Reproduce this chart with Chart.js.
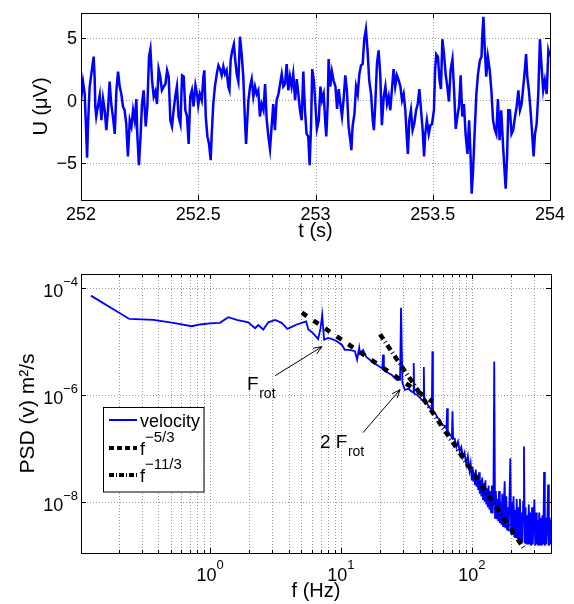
<!DOCTYPE html>
<html lang="en">
<head>
  <meta charset="UTF-8" />
  <title>Velocity trace and PSD</title>
  <script src="https://cdn.jsdelivr.net/npm/chart.js"></script>
  <style>
    html, body { margin: 0; padding: 0; background: #fff; }
    .wrap { position: relative; width: 574px; height: 604px; }
    #traceChart { position: absolute; left: 0; top: 0; }
    #psdChart { position: absolute; left: 0; top: 250px; }
  </style>
</head>
<body>
<div class="wrap">
  <canvas id="traceChart" width="574" height="250"></canvas>
  <canvas id="psdChart" width="574" height="354"></canvas>
</div>

<script>
  const FONT = '"Liberation Sans", Arial, Helvetica, sans-serif';
  const BLUE = "#0000ff";

  // --- top panel: U (uV) vs t (s) ---
  const velocityTrace = [
    [252.000,0.0],[252.0085,1.5],[252.016,0.5],[252.026,-4.6],[252.030,-1.9],[252.037,1.1],[252.044,2.1],[252.054,3.5],
    [252.058,1.9],[252.061,-0.5],[252.065,-1.3],[252.072,-0.5],[252.080,0.4],[252.087,-1.6],[252.094,0.1],[252.101,-0.8],
    [252.108,-2.4],[252.115,-0.8],[252.122,1.5],[252.129,-0.3],[252.136,-1.3],[252.144,-2.7],[252.151,0.8],[252.158,2.3],
    [252.165,1.1],[252.172,0.5],[252.179,-0.5],[252.186,-0.8],[252.193,-1.9],[252.200,-4.5],[252.208,-1.6],[252.215,-2.1],
    [252.222,-0.8],[252.229,-1.6],[252.236,0.1],[252.240,-2.7],[252.247,-5.2],[252.254,-2.9],[252.260,-0.3],[252.267,0.8],
    [252.276,-2.1],[252.283,-0.5],[252.290,3.5],[252.296,4.1],[252.303,1.6],[252.310,0.3],[252.317,0.7],[252.324,-0.3],
    [252.331,2.5],[252.338,1.9],[252.345,0.8],[252.353,1.1],[252.360,1.3],[252.367,2.4],[252.374,1.9],[252.381,-1.6],
    [252.388,-2.1],[252.395,-0.8],[252.402,0.3],[252.409,1.1],[252.416,-1.3],[252.424,-1.9],[252.431,2.0],[252.438,1.9],
    [252.445,-0.8],[252.452,-1.3],[252.459,-3.5],[252.466,0.3],[252.473,0.8],[252.480,-0.5],[252.488,1.2],[252.495,0.5],
    [252.500,-0.4],[252.507,0.5],[252.515,0.0],[252.522,1.9],[252.526,2.4],[252.532,-1.3],[252.539,-2.9],[252.546,-3.5],
    [252.553,-4.8],[252.557,-2.9],[252.564,-0.3],[252.571,1.1],[252.579,2.1],[252.586,2.8],[252.593,2.5],[252.600,2.0],
    [252.607,2.7],[252.614,2.1],[252.621,2.4],[252.628,1.1],[252.633,0.8],[252.638,3.2],[252.645,4.0],[252.652,4.5],
    [252.658,3.2],[252.664,2.1],[252.671,1.5],[252.678,5.1],[252.685,3.7],[252.692,1.9],[252.699,-1.6],[252.704,-3.5],
    [252.709,-1.6],[252.714,0.0],[252.721,1.1],[252.728,1.7],[252.735,0.3],[252.742,1.1],[252.749,0.5],[252.756,0.8],
    [252.763,-1.3],[252.770,-0.3],[252.778,-0.8],[252.785,1.3],[252.792,-1.6],[252.799,-2.9],[252.806,-3.9],[252.813,-2.1],
    [252.820,-0.3],[252.827,-2.4],[252.834,0.0],[252.842,0.5],[252.849,1.3],[252.856,2.1],[252.863,1.1],[252.870,1.3],
    [252.877,2.9],[252.884,0.8],[252.891,1.9],[252.898,1.1],[252.905,2.1],[252.913,0.0],[252.920,1.7],[252.927,0.5],
    [252.934,-0.8],[252.941,-1.6],[252.948,2.3],[252.955,-0.8],[252.962,-2.7],[252.969,-2.9],[252.975,-5.2],[252.981,-2.1],
    [252.986,2.5],[252.993,1.6],[253.001,-0.8],[253.006,-2.3],
    [253.014,-1.6],[253.021,1.1],[253.028,0.0],[253.035,0.5],[253.042,-1.9],[253.046,-2.9],[253.052,-0.3],[253.056,3.3],
    [253.063,1.1],[253.070,2.3],[253.077,1.6],[253.085,1.1],[253.092,-0.7],[253.099,0.9],[253.106,-0.3],[253.113,-1.3],
    [253.120,0.1],[253.127,2.0],[253.134,0.8],[253.141,-2.1],[253.149,-3.3],[253.153,-4.0],[253.158,-2.1],[253.166,-1.1],
    [253.173,1.1],[253.180,0.5],[253.187,2.1],[253.194,2.8],[253.201,2.9],[253.208,4.9],[253.215,5.7],[253.222,4.0],
    [253.229,1.6],[253.237,0.5],[253.244,-1.6],[253.249,-2.4],[253.255,-0.3],[253.262,2.9],[253.269,4.0],[253.276,2.1],
    [253.283,-2.0],[253.291,0.3],[253.298,1.1],[253.305,-0.3],[253.312,0.3],[253.319,-0.8],[253.326,0.9],[253.333,2.5],
    [253.340,1.1],[253.347,2.0],[253.355,1.6],[253.362,1.1],[253.369,0.0],[253.376,0.5],[253.383,-0.8],[253.390,-3.2],
    [253.394,-4.3],[253.400,-1.6],[253.407,-0.8],[253.414,-2.4],[253.421,-1.9],[253.429,-0.8],[253.436,-0.3],[253.443,0.9],
    [253.450,-0.8],[253.457,-2.4],[253.463,-4.5],[253.468,-2.7],[253.475,-1.6],[253.483,-2.7],[253.490,-2.0],[253.497,-1.9],
    [253.505,-0.8],
    [253.510,2.4],[253.515,3.7],[253.522,3.5],[253.529,1.6],[253.535,0.9],[253.541,4.9],[253.548,3.7],[253.555,2.1],
    [253.562,1.1],[253.569,-0.1],[253.576,2.4],[253.584,3.3],[253.591,0.8],[253.598,-2.3],[253.605,-1.3],[253.612,-0.5],
    [253.619,2.0],[253.626,-1.3],[253.633,-0.3],[253.640,-2.7],[253.648,-4.3],[253.655,-1.6],[253.662,-4.8],[253.666,-7.5],
    [253.672,-5.6],[253.679,-2.4],[253.686,0.5],[253.693,2.1],[253.701,3.2],[253.708,3.5],[253.711,5.1],[253.716,6.7],
    [253.721,4.5],[253.728,1.9],[253.735,3.5],[253.743,2.4],[253.750,0.8],[253.757,-1.6],[253.764,-2.3],[253.771,-2.7],
    [253.778,0.1],[253.785,-3.2],[253.792,-0.8],[253.800,-3.7],[253.805,-5.3],[253.811,-7.1],[253.817,-4.5],[253.822,-0.8],
    [253.829,-0.8],[253.836,-2.7],[253.843,-2.4],[253.851,-1.3],[253.858,-0.5],[253.865,0.8],[253.872,-0.8],[253.879,-0.3],
    [253.886,1.1],[253.893,2.5],[253.898,3.7],[253.903,1.9],[253.910,0.8],[253.917,-0.8],[253.924,-2.7],[253.930,-4.5],
    [253.936,-2.7],[253.943,-1.9],[253.950,0.5],[253.957,4.9],[253.964,2.7],[253.971,0.8],[253.978,1.6],[253.986,0.5],
    [253.993,4.0],[254.000,3.5]
  ];
  const timeTicks = [252, 252.5, 253, 253.5, 254];
  const voltTicks = [-5, 0, 5];

  // --- bottom panel: PSD (v) vs f (Hz) ---
  const psdVelocity = [
    [0.123,7.1e-5],[0.242,2.6e-5],[0.369,2.5e-5],[0.525,2.2e-5],[0.725,1.9e-5],[0.84,2.05e-5],[1.0,2.15e-5],
    [1.19,2.2e-5],[1.38,2.8e-5],[1.6,2.5e-5],[1.96,2.25e-5],[2.21,1.75e-5],[2.34,2.0e-5],[2.55,1.65e-5],
    [2.79,2.25e-5],[3.14,2.5e-5],[3.53,2.2e-5],[3.9,1.7e-5],[4.21,1.85e-5],[4.6,2.05e-5],[5.02,2.2e-5],
    [5.42,2.35e-5],[5.64,1.65e-5],[6.15,1.4e-5],[6.7,1.1e-5],[6.99,1.75e-5],[7.2,3.1e-5],[7.44,1.07e-5],
    [8.0,1.15e-5],[8.77,1.07e-5],[9.3,1.0e-5],[10.2,8.5e-6],[10.7,6.9e-6],[11.6,6.9e-6],[12.8,6.5e-6],
    [13.3,4.5e-6],[13.8,7.6e-6],[14.0,5.9e-6],[14.8,6.8e-6],[15.7,5.0e-6],[17.7,4.0e-6],[19.9,3.3e-6],
    [20.7,3.1e-6],[21.0,5.6e-6],[21.3,3.0e-6],[21.7,2.75e-6],[24.4,2.35e-6],[26.7,1.9e-6],[28.3,1.9e-6],
    [28.8,4.2e-5],[29.5,1.66e-6],[30.8,1.23e-6],[32.8,1.29e-6],[34.7,1.15e-6],[35.7,1.1e-6],[36.0,3.9e-6],
    [36.3,1.05e-6],[38.0,1.0e-6],[40.2,8.7e-7],[42.6,7.6e-7],[43.0,3.3e-6],[43.4,7.4e-7],[45.3,6.9e-7],
    [47.9,5.6e-7],[49.5,5.3e-7],[50.0,6.5e-6],[50.5,5.0e-7],[52.4,4.6e-7],[54.6,3.7e-7],[57.1,3.4e-7],
    [59.5,2.7e-7],[62.3,2.6e-7],[64.0,2.3e-7],[64.8,5.6e-7],[65.6,2.1e-7],[68,1.8e-7],[70.4,1.6e-7],
    [71.2,4.9e-7],[72.0,1.5e-7],
    [74.1,1.51e-7],[76.3,1.05e-7],[78.5,1.32e-7],[80.8,8.7e-8],[83.1,1.05e-7],[85.5,6.8e-8],[88.0,8.3e-8],
    [90.7,5.0e-8],[93.3,7.1e-8],[96.0,3.8e-8],[98.0,5.2e-8],
    [100,2.51e-8],[101.4,4.47e-8],[102.9,2.4e-8],[104.3,3.55e-8],[105.8,2.1e-8],[107.3,3.98e-8],[108.8,1.9e-8],
    [110.4,3.16e-8],[111.9,1.66e-8],[113.5,3.55e-8],[115.1,1.41e-8],[116.8,2.51e-8],[118.4,1.26e-8],[120.1,2.82e-8],
    [121.8,1.12e-8],[123.5,2.24e-8],[125.3,1.0e-8],[127.1,2.51e-8],[128.9,8.9e-9],[130.7,1.78e-8],[132.6,7.9e-9],
    [134.5,2.0e-8],[136.4,7.1e-9],[138.3,1.58e-8],[140.3,6.3e-9],[142.3,2.0e-8],[144.3,6.0e-9],[146.3,1.41e-8],
    [148.4,4.17e-6],[150.5,5.0e-9],[152.7,1.58e-8],[154.8,4.7e-9],[157.0,1.12e-8],[159.3,4.3e-9],[161.5,1.58e-8],
    [163.8,4.0e-9],[166.2,1.0e-8],[168.5,3.7e-9],[170.9,1.41e-8],[173.4,3.5e-9],[175.8,8.9e-9],[178.3,2.4e-8],
    [180.9,3.2e-9],[183.4,1.26e-8],[186.0,3.0e-9],[188.7,7.9e-9],[191.4,2.8e-9],[194.1,1.26e-8],[196.9,6.5e-8],
    [199.7,2.5e-9],[202.5,1.0e-8],[205.4,2.4e-9],[208.3,1.26e-8],[211.3,2.2e-9],[214.3,7.1e-9],[217.3,2.1e-9],
    [220.4,1.12e-8],[223.6,2.0e-9],[226.7,7.9e-9],[230.0,1.9e-9],[233.2,1.12e-8],[236.6,1.78e-9],[239.9,6.3e-9],
    [243.3,1.74e-9],[246.8,1.0e-8],[250.3,1.07e-7],[253.9,1.66e-9],[257.5,7.9e-9],[261.2,1.58e-9],[264.9,5.6e-9],
    [268.6,1.58e-9],[272.5,8.9e-9],[276.3,1.58e-9],[280.3,6.3e-9],[284.3,1.51e-9],[288.3,7.9e-9],[292.4,1.58e-9],
    [296.6,5.6e-9],[300.8,1.1e-8],[305.1,1.51e-9],[309.5,6.3e-9],[313.9,1.58e-9],[318.3,4.5e-9],[322.9,1.51e-9],
    [327.5,6.3e-9],[332.1,1.58e-9],[336.9,5.0e-9],[341.7,1.51e-9],[346.5,5.6e-9],[351.5,1.58e-9],[356.5,3.6e-8],
    [361.5,1.51e-9],[366.7,5.0e-9],[371.9,1.58e-9],[377.2,4.0e-9],[382.6,2.1e-8],[388.0,1.51e-9],[393.6,5.0e-9],
    [399.2,1.58e-9],[404.9,4.5e-9]
  ];
  const fitFiveThirds = [[5.04,3.41e-5],[50,7.45e-7]];
  const fitElevenThirds = [[19.9,1.35e-5],[247,1.4e-9]];
  const freqGrid = [0.2,0.3,0.4,0.5,0.6,0.7,0.8,0.9,1,2,3,4,5,6,7,8,9,10,20,30,40,50,60,70,80,90,100,200,300,400];
  const freqLabelTicks = [1, 10, 100];
  const psdTicks = [1e-4, 1e-6, 1e-8];
  const legendNames = ["velocity", "f", "f"];
  const legendPowers = ["", "\u22125/3", "\u221211/3"];
  const notes = [
    { text: "F", sub: "rot", at: [1.92, 1.24e-6], tail: [3.14, 2.26e-6], tip: [7.17, 7.9e-6] },
    { text: "2 F", sub: "rot", at: [6.92, 1.01e-7], tail: [14.75, 1.95e-7], tip: [28.3, 1.24e-6] }
  ];

  const DASH_53 = [6, 8];
  const DASH_113 = [6, 3, 1, 3];

  function line(ctx, x1, y1, x2, y2) {
    ctx.beginPath(); ctx.moveTo(x1, y1); ctx.lineTo(x2, y2); ctx.stroke();
  }

  function supText(ctx, base, sup, x, y, align, size, supSize, rise) {
    ctx.font = size + "px " + FONT;
    const wb = ctx.measureText(base).width;
    ctx.font = supSize + "px " + FONT;
    const ws = ctx.measureText(sup).width;
    let x0 = x;
    if (align === "center") x0 = x - (wb + ws) / 2;
    if (align === "right") x0 = x - (wb + ws);
    ctx.textAlign = "left";
    ctx.textBaseline = "alphabetic";
    ctx.font = size + "px " + FONT;
    ctx.fillText(base, x0, y);
    ctx.font = supSize + "px " + FONT;
    ctx.fillText(sup, x0 + wb, y - rise);
  }

  function expText(v) {
    return String(Math.round(Math.log10(v))).replace("-", "\u2212");
  }

  // grid, box, inner ticks, tick labels and titles drawn the MATLAB way
  function matlabAxes(cfg) {
    return {
      id: "matlabAxes",
      beforeDatasetsDraw(chart) {
        const { ctx, chartArea: a } = chart;
        const sx = chart.scales.x, sy = chart.scales.y;
        ctx.save();
        ctx.strokeStyle = "#9a9a9a";
        ctx.lineWidth = 1;
        ctx.setLineDash([1, 2]);
        cfg.xGrid.forEach(v => {
          const p = Math.round(sx.getPixelForValue(v)) + 0.5;
          line(ctx, p, a.top, p, a.bottom);
        });
        cfg.yGrid.forEach(v => {
          const p = Math.round(sy.getPixelForValue(v)) + 0.5;
          line(ctx, a.left, p, a.right, p);
        });
        ctx.restore();
      },
      afterDraw(chart) {
        const { ctx, chartArea: a } = chart;
        const sx = chart.scales.x, sy = chart.scales.y;
        ctx.save();
        ctx.strokeStyle = "#000";
        ctx.fillStyle = "#000";
        ctx.lineWidth = 1;
        ctx.setLineDash([]);
        cfg.xGrid.forEach(v => {
          const p = Math.round(sx.getPixelForValue(v)) + 0.5;
          const len = cfg.xMajor.includes(v) ? 5 : 3;
          line(ctx, p, a.bottom, p, a.bottom - len);
          line(ctx, p, a.top, p, a.top + len);
        });
        cfg.yMajor.forEach(v => {
          const p = Math.round(sy.getPixelForValue(v)) + 0.5;
          line(ctx, a.left, p, a.left + 5, p);
          line(ctx, a.right, p, a.right - 5, p);
        });
        ctx.strokeRect(Math.round(a.left) + 0.5, Math.round(a.top) + 0.5,
                       Math.round(a.right - a.left), Math.round(a.bottom - a.top));

        cfg.xMajor.forEach(v => {
          const p = sx.getPixelForValue(v);
          if (cfg.log) {
            supText(ctx, "10", expText(v), p, a.bottom + 28, "center", 18, 13, 12);
          } else {
            ctx.font = "18px " + FONT;
            ctx.textAlign = "center";
            ctx.textBaseline = "alphabetic";
            ctx.fillText(String(v), p, a.bottom + 20);
          }
        });
        cfg.yMajor.forEach(v => {
          const p = sy.getPixelForValue(v);
          if (cfg.log) {
            supText(ctx, "10", expText(v), a.left - 3, p + 9, "right", 18, 13, 11);
          } else {
            ctx.font = "18px " + FONT;
            ctx.textAlign = "right";
            ctx.textBaseline = "alphabetic";
            ctx.fillText(String(v).replace("-", "\u2212"), a.left - 4, p + 6.5);
          }
        });

        ctx.font = "20px " + FONT;
        ctx.textAlign = "center";
        ctx.textBaseline = "middle";
        ctx.fillText(cfg.xTitle, (a.left + a.right) / 2, a.bottom + cfg.xTitleGap);
        ctx.save();
        ctx.translate(cfg.yTitleX, (a.top + a.bottom) / 2);
        ctx.rotate(-Math.PI / 2);
        ctx.font = cfg.yTitleSize + "px " + FONT;
        ctx.fillText(cfg.yTitle, 0, 0);
        ctx.restore();
        ctx.restore();
      }
    };
  }

  function drawArrow(ctx, x1, y1, x2, y2) {
    line(ctx, x1, y1, x2, y2);
    const ang = Math.atan2(y2 - y1, x2 - x1);
    const L = 9, w = 0.38;
    line(ctx, x2, y2, x2 - L * Math.cos(ang - w), y2 - L * Math.sin(ang - w));
    line(ctx, x2, y2, x2 - L * Math.cos(ang + w), y2 - L * Math.sin(ang + w));
  }

  const psdExtras = {
    id: "psdExtras",
    afterDraw(chart) {
      const { ctx, chartArea: a } = chart;
      const sx = chart.scales.x, sy = chart.scales.y;
      const px = p => [sx.getPixelForValue(p[0]), sy.getPixelForValue(p[1])];
      ctx.save();
      ctx.strokeStyle = "#000";
      ctx.fillStyle = "#000";
      ctx.lineWidth = 1;

      notes.forEach(n => {
        const [tx, ty] = px(n.tail), [hx, hy] = px(n.tip), [ax, ay] = px(n.at);
        drawArrow(ctx, tx, ty, hx, hy);
        ctx.textAlign = "left";
        ctx.textBaseline = "alphabetic";
        ctx.font = "19px " + FONT;
        ctx.fillText(n.text, ax, ay);
        const w = ctx.measureText(n.text).width;
        ctx.font = "14px " + FONT;
        ctx.fillText(n.sub, ax + w + 0.5, ay + 8);
      });

      // legend box
      const bx = a.left + 22.5, by = a.top + 133.5;
      ctx.fillStyle = "#fff";
      ctx.fillRect(bx, by, 100.5, 84.5);
      ctx.strokeRect(bx, by, 100.5, 84.5);
      ctx.fillStyle = "#000";
      const rows = [146, 174, 201];
      const styles = [
        { color: BLUE, width: 2, dash: [] },
        { color: "#000", width: 4, dash: [5, 3] },
        { color: "#000", width: 4, dash: [5, 2, 1, 2] }
      ];
      rows.forEach((ry, i) => {
        const y = a.top + ry;
        ctx.save();
        ctx.strokeStyle = styles[i].color;
        ctx.lineWidth = styles[i].width;
        ctx.setLineDash(styles[i].dash);
        line(ctx, a.left + 28, y, a.left + 56, y);
        ctx.restore();
        if (legendPowers[i]) {
          supText(ctx, legendNames[i], legendPowers[i], a.left + 59, y + 7, "left", 18, 15, 13);
        } else {
          ctx.font = "18px " + FONT;
          ctx.textAlign = "left";
          ctx.textBaseline = "alphabetic";
          ctx.fillText(legendNames[i], a.left + 59, y + 6.5);
        }
      });
      ctx.restore();
    }
  };

  function fixedScale(extra, size, horizontal) {
    return Object.assign({
      ticks: { display: false },
      grid: { display: false, drawTicks: false },
      border: { display: false },
      afterFit: s => { if (horizontal) s.height = size; else s.width = size; }
    }, extra);
  }

  new Chart(document.getElementById("traceChart"), {
    type: "line",
    data: {
      datasets: [{
        label: "velocity",
        data: velocityTrace.map(d => ({ x: d[0], y: d[1] })),
        borderColor: BLUE,
        borderWidth: 2.5,
        pointRadius: 0,
        tension: 0
      }]
    },
    options: {
      responsive: false,
      animation: false,
      layout: { padding: { left: 0, top: 13, right: 24, bottom: 0 } },
      plugins: { legend: { display: false }, tooltip: { enabled: false } },
      scales: {
        x: fixedScale({ type: "linear", min: 252, max: 254 }, 50, true),
        y: fixedScale({ type: "linear", min: -8, max: 7 }, 81, false)
      }
    },
    plugins: [matlabAxes({
      xGrid: timeTicks, xMajor: timeTicks, yGrid: voltTicks, yMajor: voltTicks,
      log: false, xTitle: "t (s)", xTitleGap: 31, yTitle: "U (\u03bcV)", yTitleX: 41, yTitleSize: 20
    })]
  });

  new Chart(document.getElementById("psdChart"), {
    type: "line",
    data: {
      datasets: [
        {
          label: "velocity",
          data: psdVelocity.map(d => ({ x: d[0], y: d[1] })),
          borderColor: BLUE,
          borderWidth: 1.8,
          pointRadius: 0,
          tension: 0,
          order: 2
        },
        {
          label: "f^-5/3",
          data: fitFiveThirds.map(d => ({ x: d[0], y: d[1] })),
          borderColor: "#000",
          borderWidth: 4.5,
          borderDash: DASH_53,
          pointRadius: 0,
          order: 1
        },
        {
          label: "f^-11/3",
          data: fitElevenThirds.map(d => ({ x: d[0], y: d[1] })),
          borderColor: "#000",
          borderWidth: 4.5,
          borderDash: DASH_113,
          pointRadius: 0,
          order: 0
        }
      ]
    },
    options: {
      responsive: false,
      animation: false,
      layout: { padding: { left: 0, top: 24, right: 23, bottom: 0 } },
      plugins: { legend: { display: false }, tooltip: { enabled: false } },
      scales: {
        x: fixedScale({ type: "logarithmic", min: 0.1034, max: 402.7 }, 51, true),
        y: fixedScale({ type: "logarithmic", min: 1.1e-9, max: 1.8e-4 }, 81, false)
      }
    },
    plugins: [matlabAxes({
      xGrid: freqGrid, xMajor: freqLabelTicks, yGrid: psdTicks, yMajor: psdTicks,
      log: true, xTitle: "f (Hz)", xTitleGap: 38, yTitle: "PSD (v) m\u00b2/s", yTitleX: 28, yTitleSize: 21
    }), psdExtras]
  });
</script>
</body>
</html>
